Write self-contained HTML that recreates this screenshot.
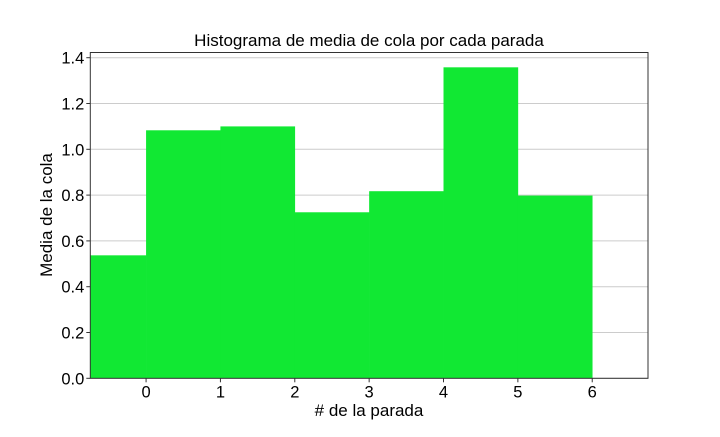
<!DOCTYPE html>
<html><head><meta charset="utf-8"><style>
body{margin:0;background:#fff;}
svg text{font-family:"Liberation Sans","DejaVu Sans",sans-serif;fill:#000;}
</style></head><body>
<svg id="chart" width="720" height="432"></svg>
<script>
const categories=[-1,0,1,2,3,4,5];
const values=[0.537,1.083,1.10,0.725,0.817,1.358,0.798];
const yTicks=[0,0.2,0.4,0.6,0.8,1.0,1.2,1.4];
const yTickLabels=["0.0","0.2","0.4","0.6","0.8","1.0","1.2","1.4"];
const xTicks=[0,1,2,3,4,5,6];
const xTickLabels=["0","1","2","3","4","5","6"];

const L=90.3,R=648,T=52.5,B=378.3;
const x=v=>L+(v+0.75)/7.5*(R-L);
const y=v=>B-v*229;
const NS="http://www.w3.org/2000/svg";
const svg=document.getElementById('chart');
function mk(t,a,p){const e=document.createElementNS(NS,t);for(const k in a)e.setAttribute(k,a[k]);(p||svg).appendChild(e);return e;}

const clip=mk('clipPath',{id:'pc'});mk('rect',{x:L,y:T,width:R-L,height:B-T},clip);
const grid=mk('g',{});


yTicks.forEach(v=>{mk('line',{x1:L,x2:R,y1:y(v),y2:y(v),stroke:'#cccccc','stroke-width':1},grid);});
const bars=mk('g',{'clip-path':'url(#pc)'});


categories.forEach((c,i)=>{
  const r=mk('rect',{x:x(c),y:y(values[i]),width:x(c+1)-x(c)+0.3,height:B-y(values[i]),fill:'#11e833'},bars);
  
  
});
const frame=mk('rect',{x:L,y:T,width:R-L,height:B-T,fill:'none',stroke:'#333','stroke-width':1});


yTicks.forEach((v,i)=>{
  mk('line',{x1:L-4,x2:L,y1:y(v),y2:y(v),stroke:'#333'});
  const t=mk('text',{x:L-6,y:y(v)+6,'text-anchor':'end','font-size':16.5});t.textContent=yTickLabels[i];
  
  
});
xTicks.forEach((v,i)=>{
  mk('line',{x1:x(v),x2:x(v),y1:B,y2:B+4,stroke:'#333'});
  const t=mk('text',{x:x(v),y:B+19,'text-anchor':'middle','font-size':16.5});t.textContent=xTickLabels[i];
  
  
});
</script>
<svg width="720" height="432" style="position:absolute;left:0;top:0">
<text x="369" y="46" text-anchor="middle" font-size="17">Histograma de media de cola por cada parada</text>
<text x="369" y="416" text-anchor="middle" font-size="17"># de la parada</text>
<text transform="translate(52,215) rotate(-90)" text-anchor="middle" font-size="17">Media de la cola</text>
</svg>
</body></html>
